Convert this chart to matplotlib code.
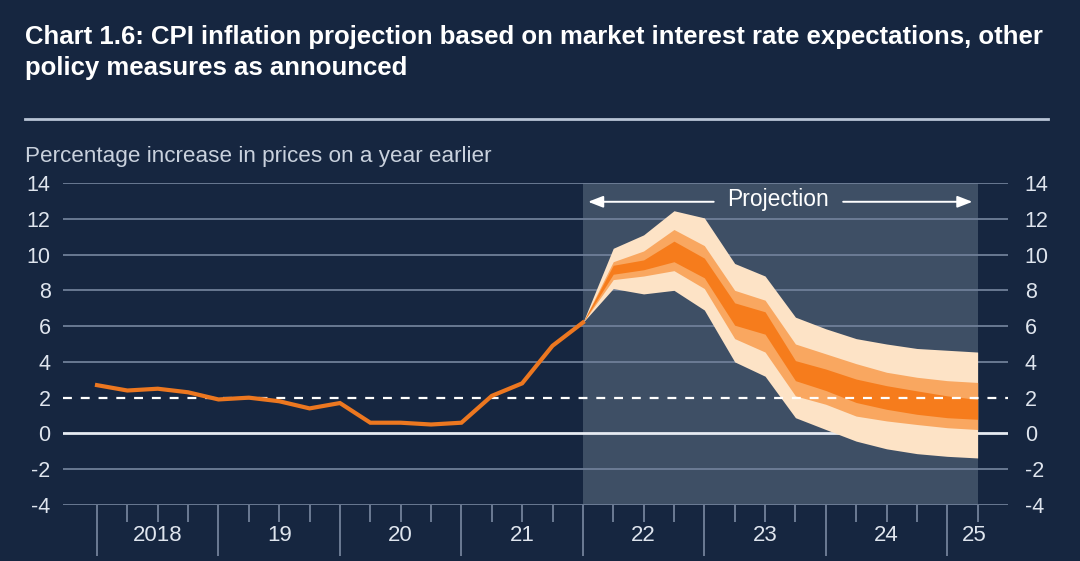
import numpy as np
import matplotlib
matplotlib.use("Agg")
import matplotlib.pyplot as plt
from matplotlib.transforms import blended_transform_factory

plt.rcParams['font.family'] = ['Liberation Sans', 'DejaVu Sans']
plt.rcParams['axes.unicode_minus'] = False

# CPI inflation, quarterly, 2018 Q1 to 2022 Q1
hist_start = 2018.0
hist_cpi = [2.7, 2.4, 2.5, 2.3, 1.9, 2.0, 1.8, 1.4, 1.7, 0.6, 0.6, 0.5, 0.6, 2.1, 2.8, 4.9, 6.2]

# fan chart bands, quarterly, 2022 Q1 to 2025 Q2
fan_start = 2022.0
outer_hi = [6.2, 10.35, 11.1, 12.45, 12.05, 9.5, 8.8, 6.5, 5.85, 5.3, 5.0, 4.75, 4.65, 4.55]
outer_lo = [6.2, 8.1, 7.8, 8.0, 6.9, 4.0, 3.2, 0.88, 0.22, -0.43, -0.86, -1.13, -1.28, -1.37]
mid_hi = [6.2, 9.6, 10.2, 11.4, 10.5, 8.0, 7.45, 5.0, 4.45, 3.9, 3.42, 3.14, 2.95, 2.85]
mid_lo = [6.2, 8.6, 8.8, 9.1, 8.1, 5.3, 4.55, 2.1, 1.63, 0.97, 0.7, 0.5, 0.32, 0.22]
inner_hi = [6.2, 9.4, 9.7, 10.75, 9.8, 7.3, 6.8, 4.07, 3.6, 3.04, 2.67, 2.38, 2.1, 1.9]
inner_lo = [6.2, 8.9, 9.15, 9.6, 8.7, 6.05, 5.55, 2.95, 2.4, 1.73, 1.35, 1.07, 0.88, 0.79]

years = [2018, 2019, 2020, 2021, 2022, 2023, 2024, 2025]
year_labels = ["2018", "19", "20", "21", "22", "23", "24", "25"]
target = 2.0
proj_end = 2025.25

bg = "#162640"
shade = "#3e4f65"
grid_col = "#6f7f98"
orange = "#ec7720"
label_col = "#dfe5ee"

fig = plt.figure(figsize=(10.8, 5.61), dpi=100)
fig.patch.set_facecolor(bg)
ax = fig.add_axes([63 / 1080, 1 - 505 / 561, (1008 - 63) / 1080, (505 - 183) / 561])
ax.set_facecolor(bg)

hx = hist_start + 0.25 * np.arange(len(hist_cpi))
fx = fan_start + 0.25 * np.arange(len(outer_hi))

# projection shading
ax.axvspan(fan_start, proj_end, color=shade, zorder=0, lw=0)

# grid lines
for v in range(-4, 15, 2):
    if v == 0:
        ax.axhline(v, color="#e6ebf2", lw=2.0, zorder=1.5)
    elif v == 2:
        continue
    else:
        ax.axhline(v, color=grid_col, lw=1.3, zorder=1)

# fan
ax.fill_between(fx, outer_lo, outer_hi, color="#fde3c6", lw=0, zorder=2)
ax.fill_between(fx, mid_lo, mid_hi, color="#f9a760", lw=0, zorder=2.1)
ax.fill_between(fx, inner_lo, inner_hi, color="#f67c1c", lw=0, zorder=2.2)

# inflation target
ax.axhline(target, color="white", lw=1.6, ls=(0, (4, 4)), zorder=3)

# history
ax.plot(hx, hist_cpi, color=orange, lw=3, zorder=4, solid_joinstyle="miter")

ax.set_xlim(2017.72, 2025.5)
ax.set_ylim(-4, 14)

for s in ax.spines.values():
    s.set_visible(False)

ax.set_yticks(range(-4, 15, 2))
ax.set_xticks(years)
ax.set_xticks([y + q for y in years for q in (0.25, 0.5, 0.75) if y + q <= proj_end], minor=True)
ax.set_xticklabels([])
ax.tick_params(axis="x", which="major", length=37, width=1.1, color="#8392aa", direction="out")
ax.tick_params(axis="x", which="minor", length=12, width=1.1, color="#8392aa", direction="out")
ax.tick_params(axis="y", length=0, pad=9, labelsize=15.5, labelcolor=label_col)

ax2 = ax.twinx()
ax2.set_ylim(-4, 14)
ax2.set_yticks(range(-4, 15, 2))
ax2.tick_params(axis="y", length=0, pad=12, labelsize=15.5, labelcolor=label_col)
for s in ax2.spines.values():
    s.set_visible(False)

# year labels
tr = blended_transform_factory(ax.transData, ax.transAxes)
for y, lab in zip(years, year_labels):
    xpos = y + 0.5 if y < 2025 else 2025.22
    ax.text(xpos, -0.095, lab, transform=tr, ha="center", va="center",
            fontsize=16, color=label_col)

# projection label and arrows
ax.text(2023.61, 13.05, "Projection", ha="center", va="center", fontsize=16.5, color="white", zorder=5)
arrow = dict(arrowstyle="-|>,head_length=0.9,head_width=0.35", color="white", lw=1.4)
ax.annotate("", xy=(fan_start + 0.02, 12.95), xytext=(2023.1, 12.95), arrowprops=arrow)
ax.annotate("", xy=(proj_end - 0.02, 12.95), xytext=(2024.12, 12.95), arrowprops=arrow)

# titles
fig.text(25 / 1080, 1 - 44 / 561, "Chart 1.6: CPI inflation projection based on market interest rate expectations, other",
         fontsize=18.5, fontweight="bold", color="white", va="baseline")
fig.text(25 / 1080, 1 - 75 / 561, "policy measures as announced",
         fontsize=18.5, fontweight="bold", color="white", va="baseline")
fig.add_artist(plt.Line2D([25 / 1080, 1048 / 1080], [1 - 119 / 561] * 2, color="#b8c4d6", lw=2))
fig.text(25 / 1080, 1 - 162 / 561, "Percentage increase in prices on a year earlier",
         fontsize=16.2, color="#c9d1dd", va="baseline")

fig.savefig("out.png", dpi=100, facecolor=bg)
